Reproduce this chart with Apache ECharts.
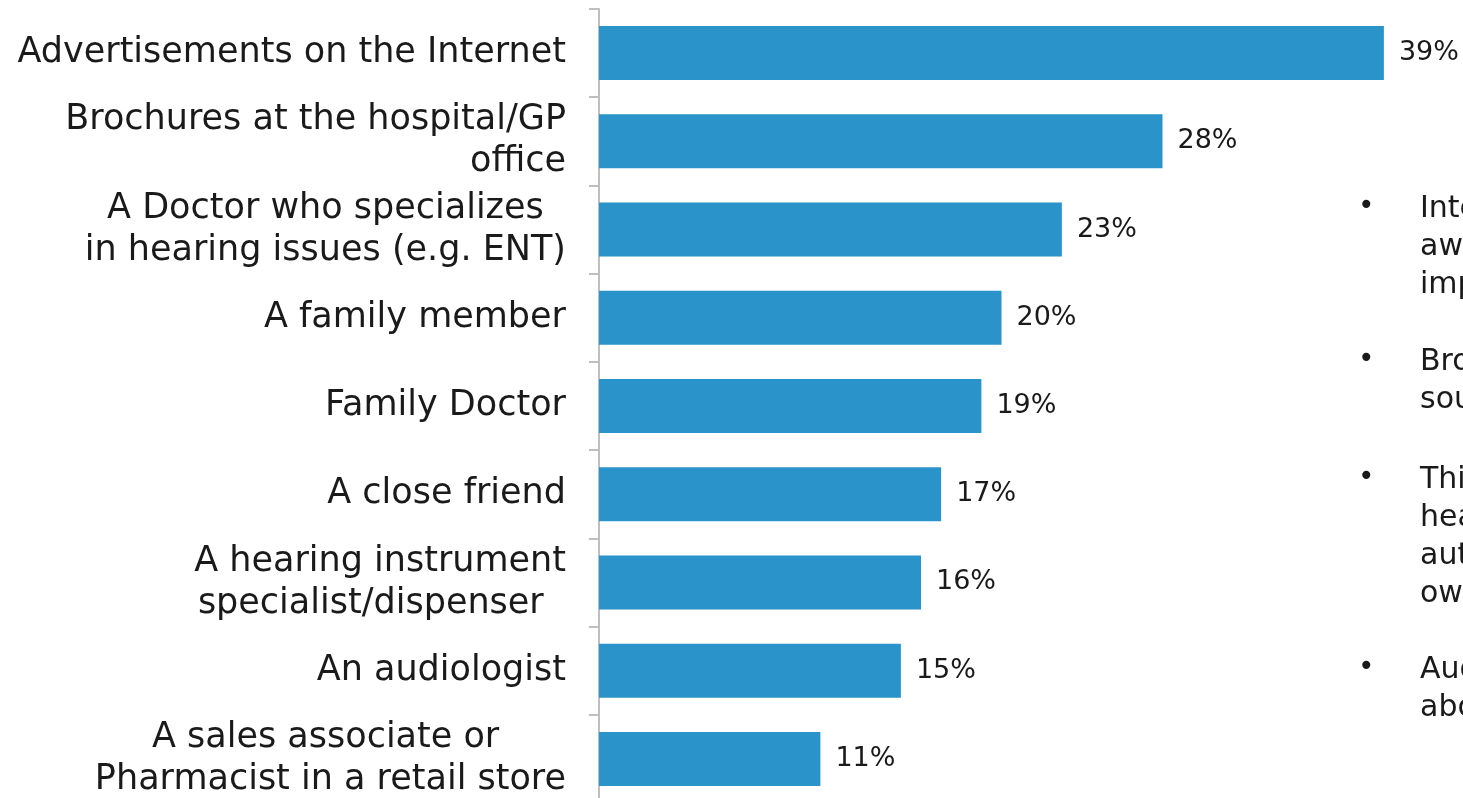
<!DOCTYPE html>
<html><head><meta charset="utf-8">
<script src="https://cdn.jsdelivr.net/npm/echarts@6/dist/echarts.min.js"></script>
<style>html,body{margin:0;padding:0;background:#fff}#c{width:1463px;height:798px}</style>
</head><body><div id="c"></div>
<script>
const categories = [
  "Advertisements on the Internet",
  "Brochures at the hospital/GP\noffice",
  "A Doctor who specializes  \nin hearing issues (e.g. ENT)",
  "A family member",
  "Family Doctor",
  "A close friend",
  "A hearing instrument\nspecialist/dispenser  ",
  "An audiologist",
  "A sales associate or      \nPharmacist in a retail store"
];
const values = [39, 28, 23, 20, 19, 17, 16, 15, 11];
const bulletLines = [
  ["Inte", "awa", "imp"],
  ["Broc", "sour"],
  ["This", "hear", "auto", "own"],
  ["Aud", "abou"]
];
const bulletTops = [190, 343, 461, 651];

const FONT = "DejaVu Sans";
const chart = echarts.init(document.getElementById('c'));
const graphics = [];
bulletLines.forEach((lines, i) => {
  graphics.push({type:'text', left:1358, top:bulletTops[i] + 3, style:{text:'•', font:'28px "'+FONT+'"', fill:'#1a1a1a'}});
  graphics.push({type:'text', left:1420, top:bulletTops[i], style:{text:lines.join('\n'), font:'30px "'+FONT+'"', lineHeight:38, fill:'#1a1a1a'}});
});
chart.setOption({
  animation:false,
  grid:{left:599, width:805, top:9, height:794, containLabel:false, outerBoundsMode:'none'},
  xAxis:{type:'value', min:0, max:40, show:false},
  yAxis:{type:'category', inverse:true, data:categories,
    axisLine:{show:true, lineStyle:{color:'#bfbfbf', width:2}},
    axisTick:{show:true, length:10, lineStyle:{color:'#bfbfbf', width:2}},
    axisLabel:{margin:33, fontFamily:FONT, fontSize:35, color:'#1a1a1a', lineHeight:42, align:'right'}
  },
  series:[{type:'bar', data:values, barWidth:54, itemStyle:{color:'#2a93c9'},
    label:{show:true, position:'right', distance:15, formatter:'{c}%', fontFamily:FONT, fontSize:27, color:'#1a1a1a'}}],
  graphic:graphics
});
</script></body></html>
